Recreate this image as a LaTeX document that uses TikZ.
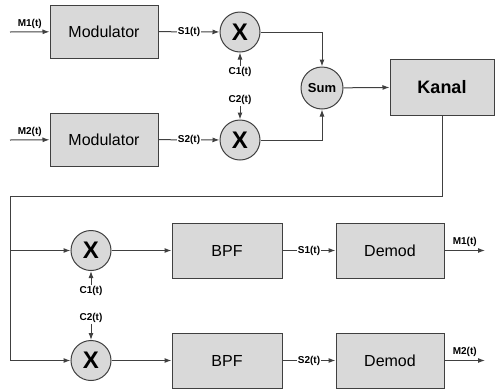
\documentclass[tikz,border=0pt]{standalone}
\usepackage{fontspec}
\setmainfont{Liberation Sans}
\usepackage{tikz}
\usetikzlibrary{arrows.meta}
\usetikzlibrary{positioning}

\tikzset{
  blok/.style={draw=black!75, fill=black!15, line width=1pt, minimum width=108pt, minimum height=53pt, font=\fontsize{16}{16}\selectfont},
  mix/.style={circle, draw=black!75, fill=black!15, line width=1pt, minimum size=40pt, inner sep=0pt, font=\fontsize{24}{24}\selectfont\bfseries},
  lbl/.style={font=\fontsize{10}{10}\selectfont\bfseries, inner sep=1pt},
  sig/.style={line width=1pt, draw=black!75, -{Latex[length=7pt,width=5pt]}},
  wire/.style={line width=1pt, draw=black!75},
}

\begin{document}
\begin{tikzpicture}[x=1pt,y=-1pt]
        \useasboundingbox (0,0) rectangle (495,389);
        \node[blok] (mod1) at (104,31.5) {Modulator};
        \node[blok] (mod2) at (104,139.5) {Modulator};
        \node[mix] (x1) at (240,32) {X};
        \node[mix] (x2) at (240,140) {X};
        \node[mix, minimum size=42pt, font=\fontsize{13}{13}\selectfont\bfseries] (sum) at (322,88) {Sum};
        \node[blok, minimum width=104pt, minimum height=56pt, font=\fontsize{18}{18}\selectfont\bfseries] (kanal) at (442,87) {Kanal};
        \node[lbl] (c1) at (240,72) {C1(t)};
        \node[lbl] (c2) at (240,100) {C2(t)};
        \coordinate (in1) at (10,32);
        \coordinate (in2) at (10,140);
        \draw[sig] (in1) -- node[lbl, above=2pt] {M1(t)} (mod1);
        \draw[sig] (in2) -- node[lbl, above=2pt] {M2(t)} (mod2);
        \draw[sig] (mod1) -- node[lbl, fill=white] {S1(t)} (x1);
        \draw[sig] (mod2) -- node[lbl, fill=white] {S2(t)} (x2);
        \draw[sig] (c1) -- (x1);
        \draw[sig] (c2) -- (x2);
        \draw[sig] (x1) -| (sum);
        \draw[sig] (x2) -| (sum);
        \draw[sig] (sum) -- (kanal);

        \node[mix] (x3) at (91,250.5) {X};
        \node[mix] (x4) at (91,360.5) {X};
        \node[blok, minimum width=110pt, minimum height=55pt] (bpf1) at (227,250.5) {BPF};
        \node[blok, minimum width=110pt, minimum height=55pt] (bpf2) at (227,360.5) {BPF};
        \node[blok, minimum height=55pt] (dem1) at (390,250.5) {Demod};
        \node[blok, minimum height=55pt] (dem2) at (390,360.5) {Demod};
        \node[lbl] (c3) at (91,291) {C1(t)};
        \node[lbl] (c4) at (91,318) {C2(t)};
        \coordinate (bend) at (10,196);
        \coordinate (split) at (10,250.5);
        \coordinate (low) at (10,360.5);
        \coordinate (out1) at (485,250.5);
        \coordinate (out2) at (485,360.5);
        \draw[wire] (kanal.south) |- (bend) -- (low);
        \draw[sig] (split) -- (x3);
        \draw[sig] (low) -- (x4);
        \draw[sig] (c3) -- (x3);
        \draw[sig] (c4) -- (x4);
        \draw[sig] (x3) -- (bpf1);
        \draw[sig] (x4) -- (bpf2);
        \draw[sig] (bpf1) -- node[lbl, fill=white] {S1(t)} (dem1);
        \draw[sig] (bpf2) -- node[lbl, fill=white] {S2(t)} (dem2);
        \draw[sig] (dem1) -- node[lbl, above=2pt] {M1(t)} (out1);
        \draw[sig] (dem2) -- node[lbl, above=2pt] {M2(t)} (out2);
\end{tikzpicture}
\end{document}
